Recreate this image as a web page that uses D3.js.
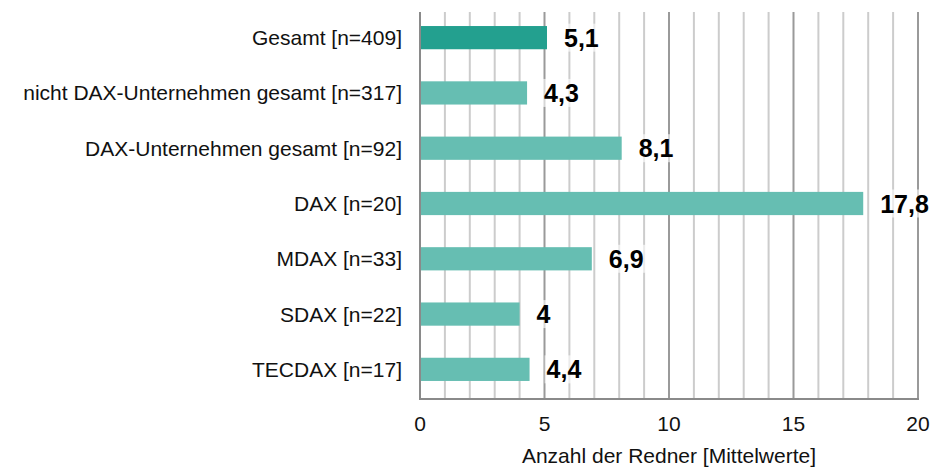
<!DOCTYPE html>
<html><head><meta charset="utf-8">
<script src="https://cdn.jsdelivr.net/npm/d3@7"></script>
<style>body{margin:0;background:#fff}</style>
</head><body>
<svg id="c" width="950" height="467"></svg>
<script>
const categories = ["Gesamt [n=409]","nicht DAX-Unternehmen gesamt [n=317]","DAX-Unternehmen gesamt [n=92]","DAX [n=20]","MDAX [n=33]","SDAX [n=22]","TECDAX [n=17]"];
const values = [5.1,4.3,8.1,17.8,6.9,4,4.4];
const valueLabels = ["5,1","4,3","8,1","17,8","6,9","4","4,4"];
const tickValues = [0,5,10,15,20];
const axisTitle = "Anzahl der Redner [Mittelwerte]";

const svg = d3.select("#c");
const font = "'Liberation Sans', Arial, sans-serif";
const m = {l:420, r:918, t:12, b:399};
const x = d3.scaleLinear().domain([0,20]).range([m.l, m.r]);
const y = d3.scaleBand().domain(categories).range([m.t-2, m.b-2]).paddingInner(0.58).paddingOuter(0.29);

// gridlines
const g = svg.append("g");
g.selectAll("line.grid").data(d3.range(1,21)).join("line")
  .attr("x1", d=>x(d)).attr("x2", d=>x(d)).attr("y1", m.t).attr("y2", m.b)
  .attr("stroke", d=> d%5===0 ? "#9a9a9a" : "#cccccc").attr("stroke-width", 2);
g.append("line").attr("x1", m.l).attr("x2", m.l).attr("y1", m.t).attr("y2", m.b).attr("stroke","#8a8a8a").attr("stroke-width",2);
g.append("line").attr("x1", m.l-1).attr("x2", m.r+1).attr("y1", m.b).attr("y2", m.b).attr("stroke","#8a8a8a").attr("stroke-width",2);

// bars
svg.selectAll("rect.bar").data(values).join("rect")
  .attr("x", x(0)+1).attr("y", (d,i)=>y(categories[i]))
  .attr("width", d=>x(d)-x(0)-1).attr("height", y.bandwidth())
  .attr("fill", (d,i)=> i===0 ? "#23a08f" : "#66beb2");

// value labels with light white backing
const lab = svg.append("g");
values.forEach((v,i)=>{
  const cy = y(categories[i]) + y.bandwidth()/2;
  const t = lab.append("text").attr("x", x(v)+17).attr("y", cy).attr("dy","0.36em")
    .attr("font-family", font).attr("font-weight","bold").attr("font-size", 25).attr("fill","#000")
    .text(valueLabels[i]);
  const bb = t.node().getBBox();
  lab.insert("rect", "text").attr("x", bb.x-2).attr("y", bb.y).attr("width", bb.width+4).attr("height", bb.height)
    .attr("fill","#fff").attr("opacity",0.6);
});

// category labels
svg.append("g").selectAll("text").data(categories).join("text")
  .attr("x", 402).attr("y", d=>y(d)+y.bandwidth()/2).attr("dy","0.36em")
  .attr("text-anchor","end").attr("font-family", font).attr("font-size", 21).attr("fill","#111")
  .text(d=>d);

// x tick labels
svg.append("g").selectAll("text").data(tickValues).join("text")
  .attr("x", d=>x(d)).attr("y", 423).attr("dy","0.36em").attr("text-anchor","middle")
  .attr("font-family", font).attr("font-size", 21).attr("fill","#111").text(d=>d);

svg.append("text").attr("x", (m.l+m.r)/2).attr("y", 455).attr("dy","0.36em").attr("text-anchor","middle")
  .attr("font-family", font).attr("font-size", 21).attr("fill","#111").text(axisTitle);
</script>
</body></html>
